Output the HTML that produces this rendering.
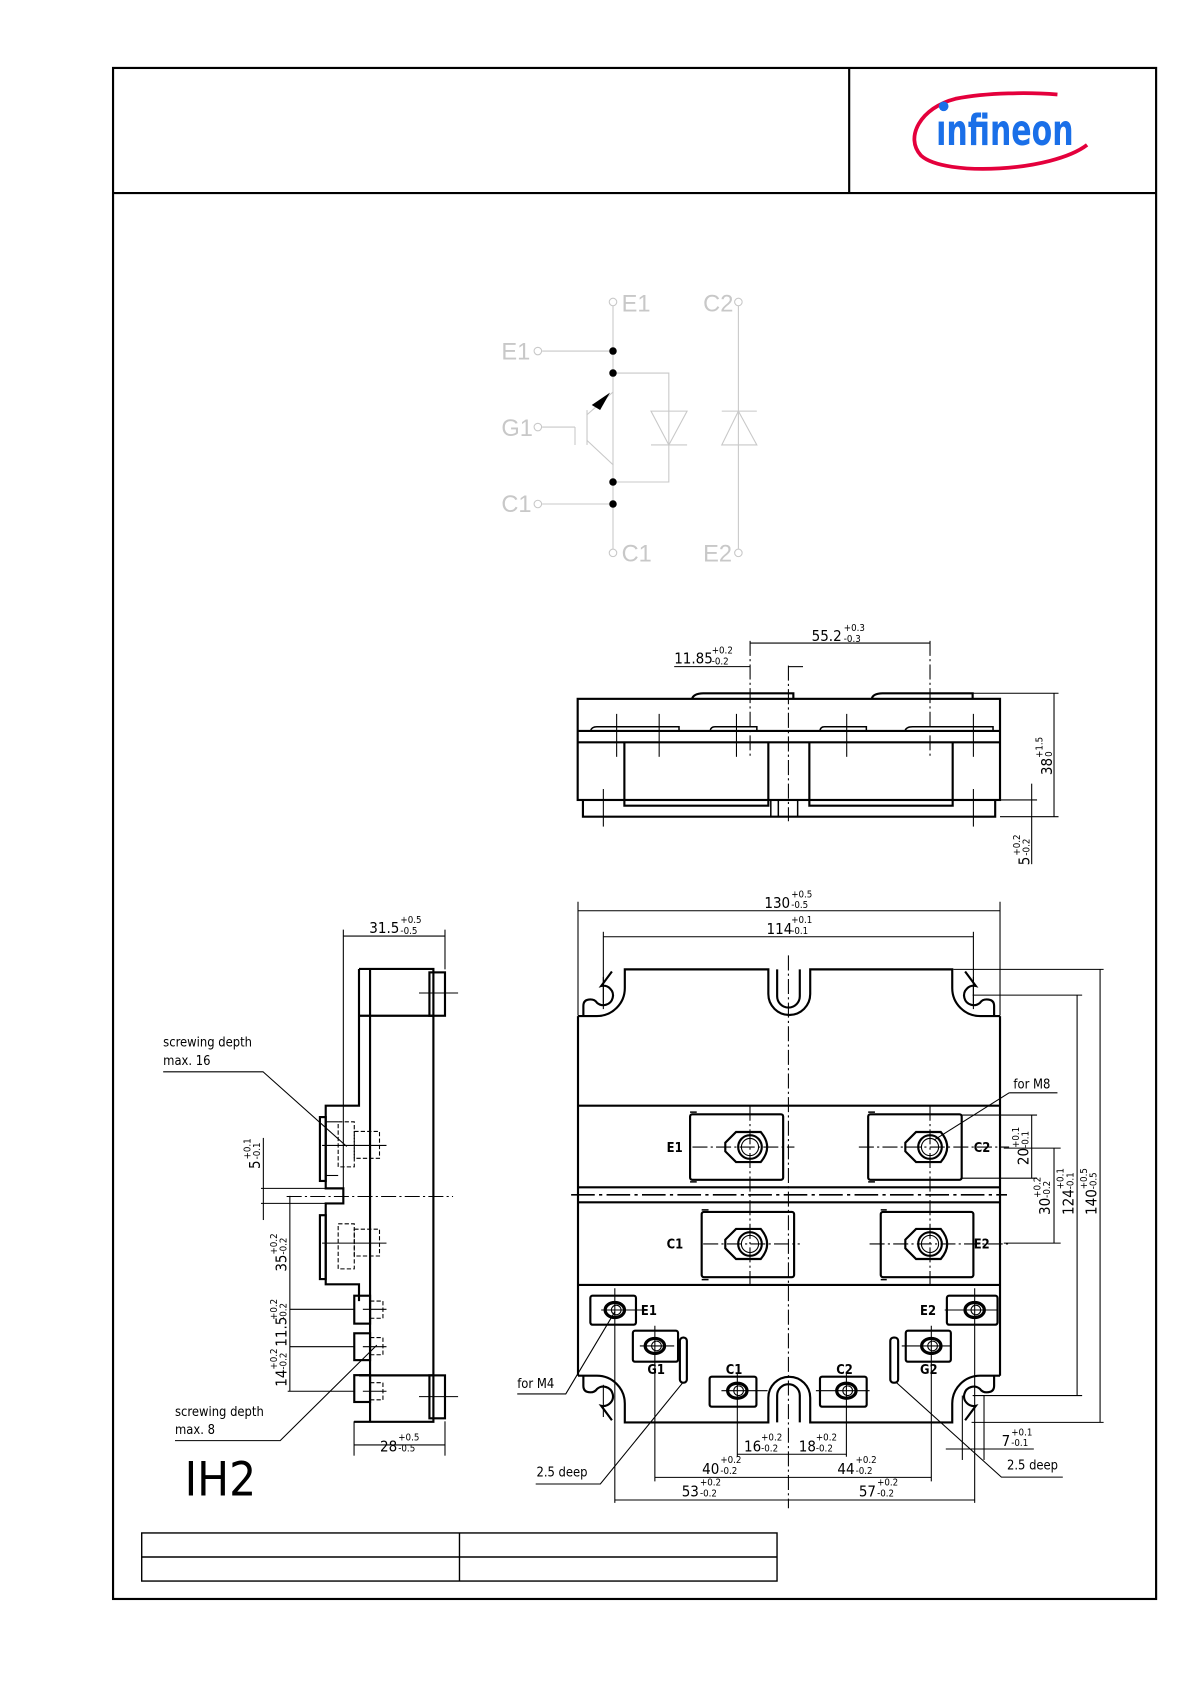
<!DOCTYPE html>
<html><head><meta charset="utf-8"><style>
html,body{margin:0;padding:0;background:#fff;}
svg{display:block;}
text{font-family:"DejaVu Sans Condensed","Liberation Sans",sans-serif;fill:#000;}
.t{font-size:9px;}
.n{font-size:14px;}
.l{font-size:12px;}
.b{font-size:12px;font-weight:bold;}
.sch{font-family:"Liberation Sans",sans-serif;font-size:22px;fill:#c8c8c8;font-weight:normal;}
</style></head><body>
<svg width="1191" height="1684" viewBox="0 0 1109.4 1568.7" preserveAspectRatio="none" xmlns="http://www.w3.org/2000/svg">
<rect x="0" y="0" width="1109.4" height="1568.7" fill="#fff"/>
<!-- frame -->
<g fill="none" stroke="#000" stroke-width="2">
<rect x="105.3" y="63.3" width="971.6" height="1426.2"/>
<line x1="105.3" y1="179.8" x2="1076.9" y2="179.8"/>
<line x1="791" y1="63.3" x2="791" y2="179.8"/>
</g>
<!-- logo -->
<path d="M1012.6,135 C980,160 880,165 858,145 C842,128 858,100 890,92 C920,86 960,86 985,88" fill="none" stroke="#e4003c" stroke-width="3.5"/>
<text x="872" y="135" font-family="Liberation Sans,sans-serif" font-size="40" font-weight="bold" fill="#1a6fe8" style="fill:#1a6fe8" textLength="128" lengthAdjust="spacingAndGlyphs">ınfineon</text>
<circle cx="879" cy="99" r="4.5" fill="#1a6fe8"/>

<!-- schematic -->
<g stroke="#c8c8c8" stroke-width="1" fill="none">
<line x1="571" y1="285" x2="571" y2="511"/>
<circle cx="571" cy="281.3" r="3.5" fill="#fff"/>
<circle cx="571" cy="515" r="3.5" fill="#fff"/>
<line x1="505" y1="327" x2="571" y2="327"/>
<circle cx="501" cy="327" r="3.5"/>
<line x1="505" y1="469.5" x2="571" y2="469.5"/>
<circle cx="501" cy="469.5" r="3.5"/>
<line x1="505" y1="397.8" x2="535.6" y2="397.8"/>
<line x1="535.6" y1="397.8" x2="535.6" y2="414.5"/>
<circle cx="501" cy="397.8" r="3.5"/>
<line x1="546.8" y1="382" x2="546.8" y2="414.5"/>
<line x1="546.5" y1="386.6" x2="571.3" y2="364.9"/>
<line x1="546.5" y1="410" x2="571.3" y2="433.2"/>
<polyline points="571,347.5 623,347.5 623,449 571,449"/>
<polygon points="606.4,383 640,383 623,414.5"/>
<line x1="606.4" y1="414.5" x2="640" y2="414.5"/>
<line x1="687.8" y1="285" x2="687.8" y2="511"/>
<circle cx="687.8" cy="281.3" r="3.5"/>
<circle cx="687.8" cy="515" r="3.5"/>
<polygon points="672.3,414.5 705,414.5 687.8,383"/>
<line x1="672.3" y1="383" x2="705" y2="383"/>
</g>
<polygon points="568.2,365.8 551.2,377.3 559,381.9" fill="#000"/>
<g fill="#000"><circle cx="571" cy="327" r="3.5"/><circle cx="571" cy="347.5" r="3.5"/><circle cx="571" cy="449" r="3.5"/><circle cx="571" cy="469.5" r="3.5"/></g>
<text class="sch" x="579" y="290">E1</text>
<text class="sch" x="655" y="290">C2</text>
<text class="sch" x="467" y="335">E1</text>
<text class="sch" x="467" y="406">G1</text>
<text class="sch" x="467" y="477">C1</text>
<text class="sch" x="579" y="523">C1</text>
<text class="sch" x="655" y="523">E2</text>

<!-- TOP (side) VIEW -->
<g fill="none" stroke="#000" stroke-width="2">
<rect x="538.1" y="651" width="393.4" height="94.2"/>
<line x1="538.1" y1="680.9" x2="931.5" y2="680.9"/>
<line x1="538.1" y1="691.5" x2="931.5" y2="691.5"/>
<polyline points="581.6,691.5 581.6,750.5 715.7,750.5 715.7,691.5"/>
<polyline points="753.9,691.5 753.9,750.5 887.4,750.5 887.4,691.5"/>
<polyline points="543,745.2 543,760.8 927,760.8 927,745.2"/>
<path d="M644.6,651 Q646,646 655,645.8 L739,645.8 L739,651"/>
<path d="M812,651 Q813,646 822,645.8 L906,645.8 L906,651"/>
</g>
<g fill="none" stroke="#000" stroke-width="1.4">
<path d="M550,680.9 Q551,677 556,677 H632.5 V680.9"/>
<path d="M661.4,680.9 Q662,677 666,677 H705 V680.9"/>
<path d="M763.9,680.9 Q764,677 768,677 H807 V680.9"/>
<path d="M843,680.9 Q844,677 850,677 H925 V680.9"/>
<line x1="718" y1="745.2" x2="718" y2="760.8"/>
<line x1="725" y1="745.2" x2="725" y2="760.8"/>
<line x1="743" y1="745.2" x2="743" y2="760.8"/>
</g>
<g stroke="#000" stroke-width="1" fill="none">
<line x1="574.4" y1="665" x2="574.4" y2="705"/>
<line x1="614" y1="665" x2="614" y2="705"/>
<line x1="686" y1="665" x2="686" y2="705"/>
<line x1="788.7" y1="665" x2="788.7" y2="705"/>
<line x1="906.7" y1="665" x2="906.7" y2="705"/>
<line x1="562" y1="735" x2="562" y2="770"/>
<line x1="906.7" y1="735" x2="906.7" y2="770"/>
<line x1="734.4" y1="620" x2="734.4" y2="765" stroke-dasharray="14 3 2 3"/>
<line x1="698.7" y1="597" x2="698.7" y2="705" stroke-dasharray="14 3 2 3"/>
<line x1="866.3" y1="597" x2="866.3" y2="705" stroke-dasharray="14 3 2 3"/>
<line x1="698.7" y1="599" x2="866.3" y2="599"/>
<line x1="628" y1="621" x2="698.7" y2="621"/>
<line x1="734.4" y1="621" x2="748" y2="621"/>
<line x1="906" y1="645.8" x2="986" y2="645.8"/>
<line x1="931.5" y1="760.8" x2="986" y2="760.8"/>
<line x1="981.8" y1="645.8" x2="981.8" y2="760.8"/>
<line x1="931.5" y1="745.2" x2="966" y2="745.2"/>
<line x1="961" y1="730" x2="961" y2="805"/>
</g>
<text class="n" x="756" y="597">55.2</text><text class="t" x="786" y="588">+0.3</text><text class="t" x="786" y="598">-0.3</text>
<text class="n" x="628" y="618">11.85</text><text class="t" x="663" y="609">+0.2</text><text class="t" x="663" y="619">-0.2</text>
<g transform="translate(980,722) rotate(-90)"><text class="n" x="0" y="0">38</text><text class="t" x="16" y="-9">+1.5</text><text class="t" x="17" y="0">0</text></g>
<g transform="translate(959,806) rotate(-90)"><text class="n" x="0" y="0">5</text><text class="t" x="9" y="-9">+0.2</text><text class="t" x="9" y="0">-0.2</text></g>

<!-- MAIN BOTTOM VIEW -->
<g fill="none" stroke="#000" stroke-width="2">
<line x1="538.4" y1="946.5" x2="538.4" y2="1281.5"/>
<line x1="931.5" y1="946.5" x2="931.5" y2="1281.5"/>
<line x1="538.4" y1="1030" x2="931.5" y2="1030"/>
<line x1="538.4" y1="1106" x2="931.5" y2="1106"/>
<line x1="538.4" y1="1120" x2="931.5" y2="1120"/>
<line x1="538.4" y1="1197" x2="931.5" y2="1197"/>
<g id="outl">
<path d="M538.4,946.5 H556 A26 26 0 0 0 582,920.5 V903 H715.7 V926 A19.5 19.5 0 0 0 754.7,926 V903 H887 V920.5 A26 26 0 0 0 913,946.5 H931.5"/>
<path d="M723.9,903 V928 A10.5 10.5 0 0 0 745,928 V903"/>
<path d="M543.4,946.5 V937 Q543.4,931 550,931 Q554,931 556,934 A9 9 0 1 0 560,918.5 L570,905"/>
<path d="M926,946.5 V937 Q926,931 919,931 Q915,931 913,934 A9 9 0 1 1 909,918.5 L899,905"/>
</g>
<use href="#outl" transform="translate(0,2228) scale(1,-1)"/>
</g>
<!-- big terminals -->
<g fill="none" stroke="#000" stroke-width="2">
<rect x="642.8" y="1038" width="86.7" height="61" rx="2"/>
<rect x="808.7" y="1038" width="87.1" height="61" rx="2"/>
<rect x="653.6" y="1129" width="86.1" height="60.7" rx="2"/>
<rect x="820.4" y="1129" width="86.3" height="60.7" rx="2"/>
</g>
<g fill="none" stroke="#000" stroke-width="1.4">
<path d="M649,1036 H642.8 M649,1101 H642.8 M815,1036 H808.7 M815,1101 H808.7 M660,1127 H653.6 M660,1192 H653.6 M826,1127 H820.4 M826,1192 H820.4"/>
</g>
<g fill="none" stroke="#000" stroke-width="2">
<path d="M685.6,1054.5 H708.6 Q720.6,1068.5 708.6,1082.5 H685.6 L675.6,1072.5 V1064.5 Z"/>
<circle cx="698.6" cy="1068.5" r="11"/><circle cx="698.6" cy="1068.5" r="8" stroke-width="1"/>
<path d="M853.3,1054.5 H876.3 Q888.3,1068.5 876.3,1082.5 H853.3 L843.3,1072.5 V1064.5 Z"/>
<circle cx="866.3" cy="1068.5" r="11"/><circle cx="866.3" cy="1068.5" r="8" stroke-width="1"/>
<path d="M685.6,1144.8 H708.6 Q720.6,1158.8 708.6,1172.8 H685.6 L675.6,1162.8 V1154.8 Z"/>
<circle cx="698.6" cy="1158.8" r="11"/><circle cx="698.6" cy="1158.8" r="8" stroke-width="1"/>
<path d="M853.3,1144.8 H876.3 Q888.3,1158.8 876.3,1172.8 H853.3 L843.3,1162.8 V1154.8 Z"/>
<circle cx="866.3" cy="1158.8" r="11"/><circle cx="866.3" cy="1158.8" r="8" stroke-width="1"/>
</g>
<!-- small terminals -->
<g fill="none" stroke="#000" stroke-width="2">
<rect x="549.9" y="1207" width="42.5" height="27" rx="2"/>
<rect x="589.5" y="1239.6" width="42.1" height="28.9" rx="2"/>
<rect x="661" y="1282.4" width="43.6" height="28" rx="2"/>
<rect x="763.8" y="1282.4" width="43.5" height="28" rx="2"/>
<rect x="843.7" y="1239.6" width="42" height="28.9" rx="2"/>
<rect x="882" y="1207" width="47.2" height="27" rx="2"/>
<rect x="633.3" y="1246" width="6.5" height="42" rx="3"/>
<rect x="829.3" y="1246" width="7.3" height="42" rx="3"/>
</g>
<g fill="none" stroke="#000" stroke-width="3">
<ellipse cx="572.7" cy="1220.3" rx="9" ry="7"/><ellipse cx="610" cy="1253.8" rx="9" ry="7"/>
<ellipse cx="686.8" cy="1295.5" rx="9" ry="7"/><ellipse cx="788.4" cy="1295.5" rx="9" ry="7"/>
<ellipse cx="867.5" cy="1253.8" rx="9" ry="7"/><ellipse cx="907.9" cy="1220.3" rx="9" ry="7"/>
</g>
<g fill="none" stroke="#000" stroke-width="1">
<circle cx="574" cy="1220.3" r="4.5"/><circle cx="611.5" cy="1253.8" r="4.5"/><circle cx="688" cy="1295.5" r="4.5"/><circle cx="789.6" cy="1295.5" r="4.5"/><circle cx="868.7" cy="1253.8" r="4.5"/><circle cx="909" cy="1220.3" r="4.5"/>
</g>
<!-- center lines -->
<g stroke="#000" stroke-width="1" fill="none" stroke-dasharray="14 3 2 3">
<line x1="734.4" y1="890" x2="734.4" y2="1405"/>
<line x1="532" y1="1113" x2="938" y2="1113" stroke-width="1.5" stroke-dasharray="22 4 3 4"/>
<line x1="698.6" y1="1030" x2="698.6" y2="1197"/>
<line x1="866.3" y1="1030" x2="866.3" y2="1197"/>
<line x1="645" y1="1068.5" x2="740" y2="1068.5"/>
<line x1="800" y1="1068.5" x2="940" y2="1068.5"/>
<line x1="655" y1="1158.8" x2="745" y2="1158.8"/>
<line x1="810" y1="1158.8" x2="940" y2="1158.8"/>
</g>
<g stroke="#000" stroke-width="1" fill="none">
<line x1="560" y1="1220.3" x2="598" y2="1220.3"/><line x1="596" y1="1253.8" x2="628" y2="1253.8"/>
<line x1="672" y1="1295.5" x2="715" y2="1295.5"/><line x1="760" y1="1295.5" x2="810" y2="1295.5"/>
<line x1="840" y1="1253.8" x2="885" y2="1253.8"/><line x1="880" y1="1220.3" x2="930" y2="1220.3"/>
<line x1="572.7" y1="1200" x2="572.7" y2="1400"/>
<line x1="610" y1="1235" x2="610" y2="1380"/>
<line x1="686.8" y1="1280" x2="686.8" y2="1357"/>
<line x1="788.4" y1="1280" x2="788.4" y2="1357"/>
<line x1="867.5" y1="1235" x2="867.5" y2="1380"/>
<line x1="907.9" y1="1200" x2="907.9" y2="1400"/>
<line x1="562" y1="1290" x2="562" y2="1320"/>
<line x1="562" y1="910" x2="562" y2="940"/>
<line x1="906.7" y1="910" x2="906.7" y2="940"/>
<line x1="538.4" y1="840" x2="538.4" y2="946"/>
<line x1="931.5" y1="840" x2="931.5" y2="946"/>
<line x1="538.4" y1="848.4" x2="931.5" y2="848.4"/>
<line x1="562" y1="868" x2="562" y2="935"/>
<line x1="906.7" y1="868" x2="906.7" y2="935"/>
<line x1="562" y1="872.6" x2="906.7" y2="872.6"/>
<line x1="888" y1="903" x2="1028" y2="903"/>
<line x1="906" y1="927" x2="1008" y2="927"/>
<line x1="895" y1="1038.7" x2="966" y2="1038.7"/>
<line x1="895" y1="1097.5" x2="966" y2="1097.5"/>
<line x1="935" y1="1069.5" x2="988" y2="1069.5"/>
<line x1="935" y1="1158" x2="988" y2="1158"/>
<line x1="906" y1="1300" x2="1008" y2="1300"/>
<line x1="905" y1="1325" x2="1028" y2="1325"/>
<line x1="961" y1="1038.7" x2="961" y2="1097.5"/>
<line x1="981.8" y1="1069.5" x2="981.8" y2="1158"/>
<line x1="1003.3" y1="927" x2="1003.3" y2="1300"/>
<line x1="1024.7" y1="903" x2="1024.7" y2="1325"/>
<line x1="686.8" y1="1354.7" x2="788.4" y2="1354.7"/>
<line x1="610" y1="1376.2" x2="867.5" y2="1376.2"/>
<line x1="572.7" y1="1397.3" x2="907.9" y2="1397.3"/>
<line x1="881" y1="1349.8" x2="963" y2="1349.8"/>
<line x1="896.4" y1="1300" x2="896.4" y2="1360"/>
<line x1="916.6" y1="1300" x2="916.6" y2="1360"/>
<polyline points="940,1018 985,1018"/><line x1="940" y1="1018" x2="870" y2="1062"/>
<polyline points="481.8,1298.5 527,1298.5 572.7,1222"/>
<polyline points="499,1382.4 559.2,1382.4 636,1288"/>
<polyline points="990,1376 932.8,1376 834,1287"/>
</g>
<g class="b">
<text class="b" x="621" y="1073">E1</text><text class="b" x="907" y="1073">C2</text>
<text class="b" x="621" y="1163">C1</text><text class="b" x="907" y="1163">E2</text>
<text class="b" x="597" y="1225">E1</text><text class="b" x="857" y="1225">E2</text>
<text class="b" x="603" y="1280">G1</text><text class="b" x="857" y="1280">G2</text>
<text class="b" x="676" y="1280">C1</text><text class="b" x="779" y="1280">C2</text>
</g>
<text class="l" x="944" y="1014">for M8</text>
<text class="l" x="481.8" y="1293">for M4</text>
<text class="l" x="499.7" y="1375.6">2.5 deep</text>
<text class="l" x="938" y="1368.7">2.5 deep</text>
<text class="n" x="712" y="846">130</text><text class="t" x="737" y="836">+0.5</text><text class="t" x="737" y="846">-0.5</text>
<text class="n" x="714" y="870">114</text><text class="t" x="737" y="860">+0.1</text><text class="t" x="737" y="870">-0.1</text>
<text class="n" x="693" y="1352">16</text><text class="t" x="709" y="1342">+0.2</text><text class="t" x="709" y="1352">-0.2</text>
<text class="n" x="744" y="1352">18</text><text class="t" x="760" y="1342">+0.2</text><text class="t" x="760" y="1352">-0.2</text>
<text class="n" x="654" y="1373">40</text><text class="t" x="671" y="1363">+0.2</text><text class="t" x="671" y="1373">-0.2</text>
<text class="n" x="780" y="1373">44</text><text class="t" x="797" y="1363">+0.2</text><text class="t" x="797" y="1373">-0.2</text>
<text class="n" x="635" y="1394">53</text><text class="t" x="652" y="1384">+0.2</text><text class="t" x="652" y="1394">-0.2</text>
<text class="n" x="800" y="1394">57</text><text class="t" x="817" y="1384">+0.2</text><text class="t" x="817" y="1394">-0.2</text>
<text class="n" x="933" y="1347">7</text><text class="t" x="942" y="1337">+0.1</text><text class="t" x="942" y="1347">-0.1</text>
<g transform="translate(958,1085.3) rotate(-90)"><text class="n" x="0" y="0">20</text><text class="t" x="16" y="-9">+0.1</text><text class="t" x="16" y="0">-0.1</text></g>
<g transform="translate(978,1131.8) rotate(-90)"><text class="n" x="0" y="0">30</text><text class="t" x="16" y="-9">+0.2</text><text class="t" x="16" y="0">-0.2</text></g>
<g transform="translate(999.8,1131.8) rotate(-90)"><text class="n" x="0" y="0">124</text><text class="t" x="24" y="-9">+0.1</text><text class="t" x="24" y="0">-0.1</text></g>
<g transform="translate(1021.5,1131.8) rotate(-90)"><text class="n" x="0" y="0">140</text><text class="t" x="24" y="-9">+0.5</text><text class="t" x="24" y="0">-0.5</text></g>

<!-- LEFT SIDE VIEW -->
<g fill="none" stroke="#000" stroke-width="2">
<path d="M334.4,902.6 H403.7 V1324.5 H329.8"/>
<line x1="344.7" y1="902.6" x2="344.7" y2="1324.5"/>
<line x1="334.4" y1="946.2" x2="403.7" y2="946.2"/>
<line x1="334.4" y1="1281.2" x2="403.7" y2="1281.2"/>
<rect x="400" y="905.8" width="14.5" height="40.4"/>
<rect x="400" y="1281.2" width="14.5" height="40"/>
<path d="M334.4,902.6 V1030 H303.4 V1107 H319.8 V1121 H303.4 V1196.4 H334.4 V1212"/>
<rect x="298" y="1040.6" width="5.4" height="59.5"/>
<rect x="298" y="1132" width="5.4" height="59.5"/>
<rect x="330" y="1207" width="14.7" height="26"/>
<rect x="330" y="1242" width="14.7" height="25"/>
<rect x="330" y="1281" width="14.7" height="25"/>
</g>
<g fill="none" stroke="#000" stroke-width="1" stroke-dasharray="4 2">
<rect x="315" y="1045" width="15" height="42"/>
<rect x="330" y="1054" width="23.5" height="25"/>
<rect x="315" y="1140" width="15" height="42"/>
<rect x="330" y="1145" width="23.5" height="25"/>
<rect x="344.7" y="1212" width="12" height="16"/>
<rect x="344.7" y="1246" width="12" height="16"/>
<rect x="344.7" y="1288" width="12" height="16"/>
</g>
<g fill="none" stroke="#000" stroke-width="1">
<line x1="303.4" y1="1045" x2="315" y2="1045"/><line x1="303.4" y1="1095" x2="315" y2="1095"/>
<line x1="300" y1="1067" x2="360" y2="1067"/>
<line x1="300" y1="1158" x2="360" y2="1158"/>
<line x1="338" y1="1219.7" x2="360" y2="1219.7"/>
<line x1="338" y1="1254.5" x2="360" y2="1254.5"/>
<line x1="338" y1="1296" x2="360" y2="1296"/>
<line x1="390.3" y1="925" x2="426.7" y2="925"/>
<line x1="390.3" y1="1301" x2="426.7" y2="1301"/>
<line x1="267" y1="1114.6" x2="422" y2="1114.6" stroke-dasharray="14 3 2 3"/>
<line x1="319.8" y1="866" x2="319.8" y2="1121"/>
<line x1="414.5" y1="866" x2="414.5" y2="903"/>
<line x1="319.8" y1="872" x2="414.5" y2="872"/>
<line x1="329.8" y1="1324" x2="329.8" y2="1356"/>
<line x1="414.5" y1="1324" x2="414.5" y2="1356"/>
<line x1="329.8" y1="1346" x2="414.5" y2="1346"/>
<line x1="243.1" y1="1107" x2="303.4" y2="1107"/>
<line x1="243.1" y1="1121" x2="303.4" y2="1121"/>
<line x1="245.3" y1="1060" x2="245.3" y2="1136.5"/>
<line x1="270" y1="1114" x2="270" y2="1296"/>
<line x1="270" y1="1219.7" x2="330" y2="1219.7"/>
<line x1="270" y1="1254.5" x2="330" y2="1254.5"/>
<line x1="268" y1="1296" x2="330" y2="1296"/>
<polyline points="152,998.4 245,998.4 323,1068"/>
<polyline points="163,1342 261,1342 351,1253"/>
</g>
<text class="l" x="152" y="975">screwing depth</text>
<text class="l" x="152" y="992">max. 16</text>
<text class="l" x="163" y="1319">screwing depth</text>
<text class="l" x="163" y="1336">max. 8</text>
<text class="n" x="344" y="869">31.5</text><text class="t" x="373" y="860">+0.5</text><text class="t" x="373" y="870">-0.5</text>
<text class="n" x="354" y="1352">28</text><text class="t" x="371" y="1342">+0.5</text><text class="t" x="371" y="1352">-0.5</text>
<g transform="translate(242.2,1089) rotate(-90)"><text class="n" x="0" y="0">5</text><text class="t" x="9" y="-9">+0.1</text><text class="t" x="9" y="0">-0.1</text></g>
<g transform="translate(267,1184.6) rotate(-90)"><text class="n" x="0" y="0">35</text><text class="t" x="16" y="-9">+0.2</text><text class="t" x="16" y="0">-0.2</text></g>
<g transform="translate(267,1254.5) rotate(-90)"><text class="n" x="0" y="0">11.5</text><text class="t" x="25" y="-9">+0.2</text><text class="t" x="25" y="0">-0.2</text></g>
<g transform="translate(267,1291.8) rotate(-90)"><text class="n" x="0" y="0">14</text><text class="t" x="16" y="-9">+0.2</text><text class="t" x="16" y="0">-0.2</text></g>
<text x="172" y="1393" font-family="Liberation Sans,sans-serif" font-size="44" font-weight="normal">IH2</text>

<!-- table -->
<g fill="none" stroke="#000" stroke-width="1.3">
<rect x="132" y="1428" width="591.8" height="44.8"/>
<line x1="132" y1="1450.4" x2="723.8" y2="1450.4"/>
<line x1="428" y1="1428" x2="428" y2="1472.8"/>
</g>
</svg>
</body></html>
